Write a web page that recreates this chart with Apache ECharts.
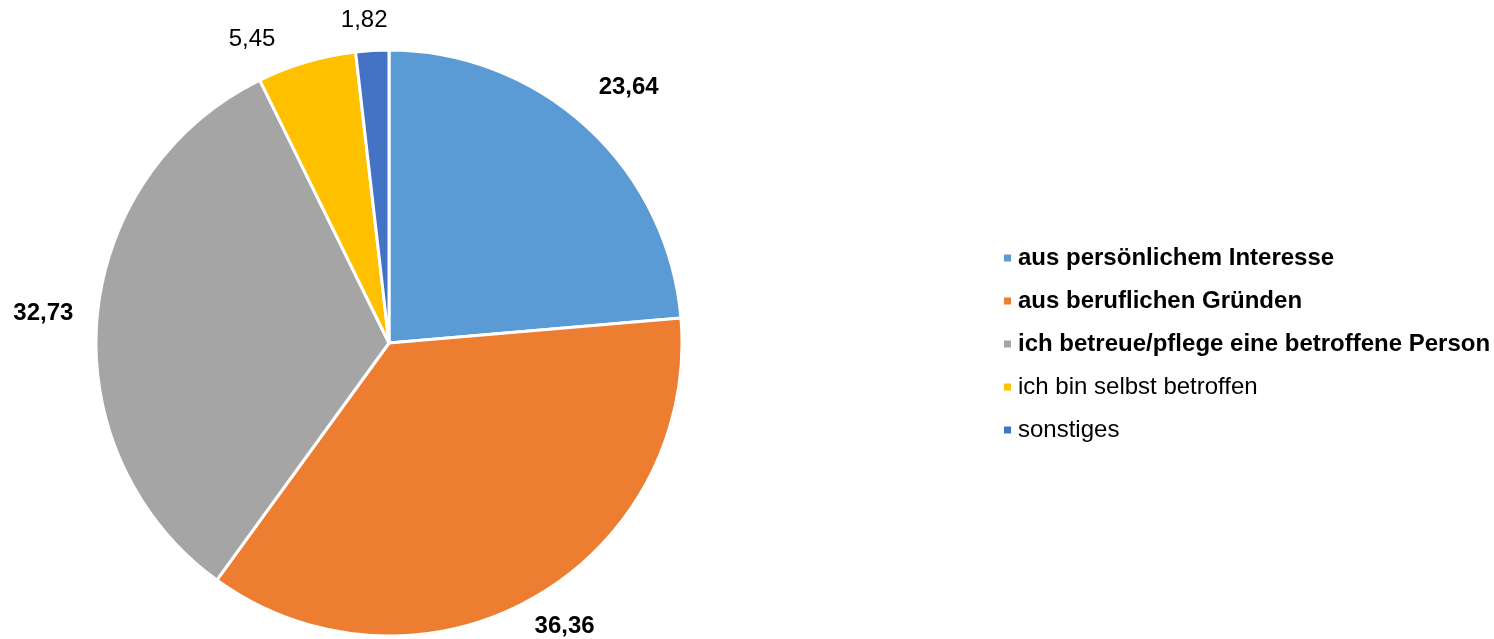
<!DOCTYPE html>
<html>
<head>
    <meta charset="UTF-8" />
    <title>Gruende</title>
    <script type="text/javascript" src="https://cdn.jsdelivr.net/npm/echarts@6/dist/echarts.min.js"></script>
</head>
<body style="margin:0;background:#fff;">

<div id="main" style="width: 1494px;height: 639px;"></div>

<script>
    var categories = ['aus persönlichem Interesse', 'aus beruflichen Gründen', 'ich betreue/pflege eine betroffene Person', 'ich bin selbst betroffen', 'sonstiges'];
    var values = [23.64, 36.36, 32.73, 5.45, 1.82];
    var colors = ['#5B9BD5', '#ED7D31', '#A5A5A5', '#FFC000', '#4472C4'];
    // die ersten drei sind im Original fett gesetzt
    var boldItems = ['aus persönlichem Interesse', 'aus beruflichen Gründen', 'ich betreue/pflege eine betroffene Person'];

    var pieData = categories.map(function (name, i) {
        var bold = boldItems.indexOf(name) >= 0;
        return {
            name: name,
            value: values[i],
            itemStyle: {color: colors[i]},
            label: {fontWeight: bold ? 'bold' : 'normal'}
        };
    });

    var legendData = categories.map(function (name) {
        return {
            name: name,
            textStyle: {fontWeight: boldItems.indexOf(name) >= 0 ? 'bold' : 'normal'}
        };
    });

    var mychart = echarts.init(document.getElementById('main'));

    var option = {
        animation: false,
        backgroundColor: '#fff',
        legend: {
            orient: 'vertical',
            left: 1002,
            top: 246,
            padding: 0,
            itemWidth: 9,
            itemHeight: 9,
            itemGap: 19,
            icon: 'rect',
            data: legendData,
            textStyle: {
                fontFamily: 'Liberation Sans',
                fontSize: 24,
                color: '#000',
                padding: [0, 0, 0, 1]
            }
        },
        series: [
            {
                type: 'pie',
                center: [389, 343],
                radius: 293,
                startAngle: 90,
                clockwise: true,
                data: pieData,
                itemStyle: {
                    borderColor: '#fff',
                    borderWidth: 3
                },
                label: {
                    show: true,
                    position: 'outside',
                    overflow: 'none',
                    fontFamily: 'Liberation Sans',
                    fontSize: 24,
                    color: '#000',
                    formatter: function (p) {
                        return p.value.toFixed(2).replace('.', ',');
                    }
                },
                labelLine: {show: false, length: 54, length2: 0},
                labelLayout: function (params) {
                    var r = params.labelRect;
                    return {
                        align: 'center',
                        verticalAlign: 'middle',
                        y: Math.max(r.y + r.height / 2, 20)
                    };
                }
            }
        ]
    };

    mychart.setOption(option);
</script>

</body>
</html>
